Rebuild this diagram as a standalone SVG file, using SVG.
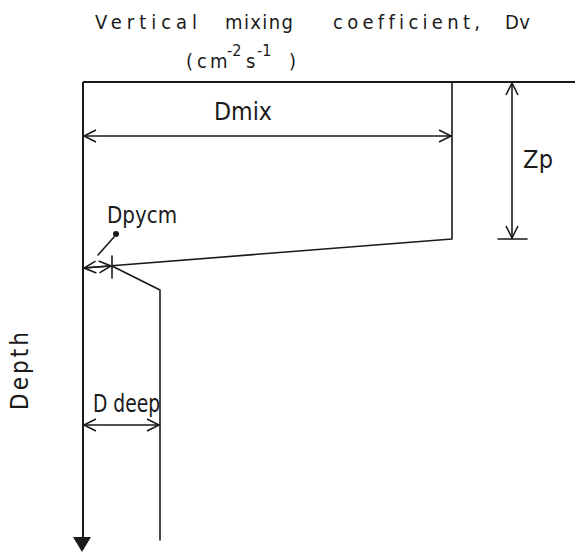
<svg xmlns="http://www.w3.org/2000/svg" width="579" height="553" viewBox="0 0 579 553">
<defs>
<style>
.ln{stroke:#1a1a1a;stroke-width:1.6;fill:none;stroke-linecap:round;stroke-linejoin:round}
.ax{stroke:#1a1a1a;stroke-width:2;fill:none}
.t{font-family:"DejaVu Sans Condensed","DejaVu Sans",sans-serif;fill:#1a1a1a;font-variant-ligatures:none;font-feature-settings:"liga" 0}
</style>
<marker id="oa" viewBox="-14 -7 16 14" markerWidth="16" markerHeight="14" refX="0" refY="0" orient="auto-start-reverse" markerUnits="userSpaceOnUse">
<path d="M-12,-6 L0,0 L-12,6" fill="none" stroke="#1a1a1a" stroke-width="1.6"/>
</marker>
</defs>
<rect width="579" height="553" fill="#fff"/>
<g id="title" class="t">
<text x="95" y="29" font-size="20" textLength="102" lengthAdjust="spacing">Vertical</text>
<text x="225" y="29" font-size="20" textLength="68" lengthAdjust="spacing">mixing</text>
<text x="333" y="29" font-size="20" textLength="147" lengthAdjust="spacing">coefficient,</text>
<text x="505" y="29" font-size="20" textLength="25" lengthAdjust="spacing">Dv</text>
<text y="68" font-size="20"><tspan x="186">(</tspan><tspan x="197">c</tspan><tspan x="210">m</tspan><tspan x="227" y="56" font-size="16">-2</tspan><tspan x="246" y="68">s</tspan><tspan x="257" y="56" font-size="16">-1</tspan><tspan x="289" y="68">)</tspan></text>
</g>
<g id="axes">
<line class="ax" x1="83" y1="82" x2="575" y2="82"/>
<line class="ax" x1="83" y1="82" x2="83" y2="540"/>
<path d="M73,537 L91,537 L82,552 Z" fill="#1a1a1a"/>
</g>
<g id="profile">
<polyline class="ln" points="452,82 452,239 83,268"/>
<polyline class="ln" points="112,266 160,290 160,540"/>
</g>
<g id="connectors">
<line class="ln" x1="84" y1="136" x2="451" y2="136" marker-start="url(#oa)" marker-end="url(#oa)"/>
<line class="ln" x1="512" y1="83" x2="512" y2="238" marker-start="url(#oa)" marker-end="url(#oa)"/>
<line class="ln" x1="498" y1="239" x2="527" y2="239"/>
<line class="ln" x1="84" y1="268" x2="111" y2="266" marker-start="url(#oa)" marker-end="url(#oa)"/>
<line class="ln" x1="112" y1="256" x2="112" y2="278"/>
<line class="ln" x1="98" y1="255" x2="114" y2="237"/>
<circle cx="116" cy="234" r="3" fill="#1a1a1a"/>
<line class="ln" x1="84" y1="425" x2="159" y2="425" marker-start="url(#oa)" marker-end="url(#oa)"/>
</g>
<g id="labels" class="t">
<text x="214" y="120" font-size="24" textLength="58" lengthAdjust="spacingAndGlyphs">Dmix</text>
<text x="523" y="168" font-size="25" textLength="30" lengthAdjust="spacing">Zp</text>
<text x="107" y="223" font-size="23" textLength="70" lengthAdjust="spacingAndGlyphs">Dpycm</text>
<text x="93" y="412" font-size="25" textLength="67" lengthAdjust="spacingAndGlyphs">D deep</text>
<text transform="translate(28,410) rotate(-90)" font-size="24" textLength="78" lengthAdjust="spacing">Depth</text>
</g>
</svg>
